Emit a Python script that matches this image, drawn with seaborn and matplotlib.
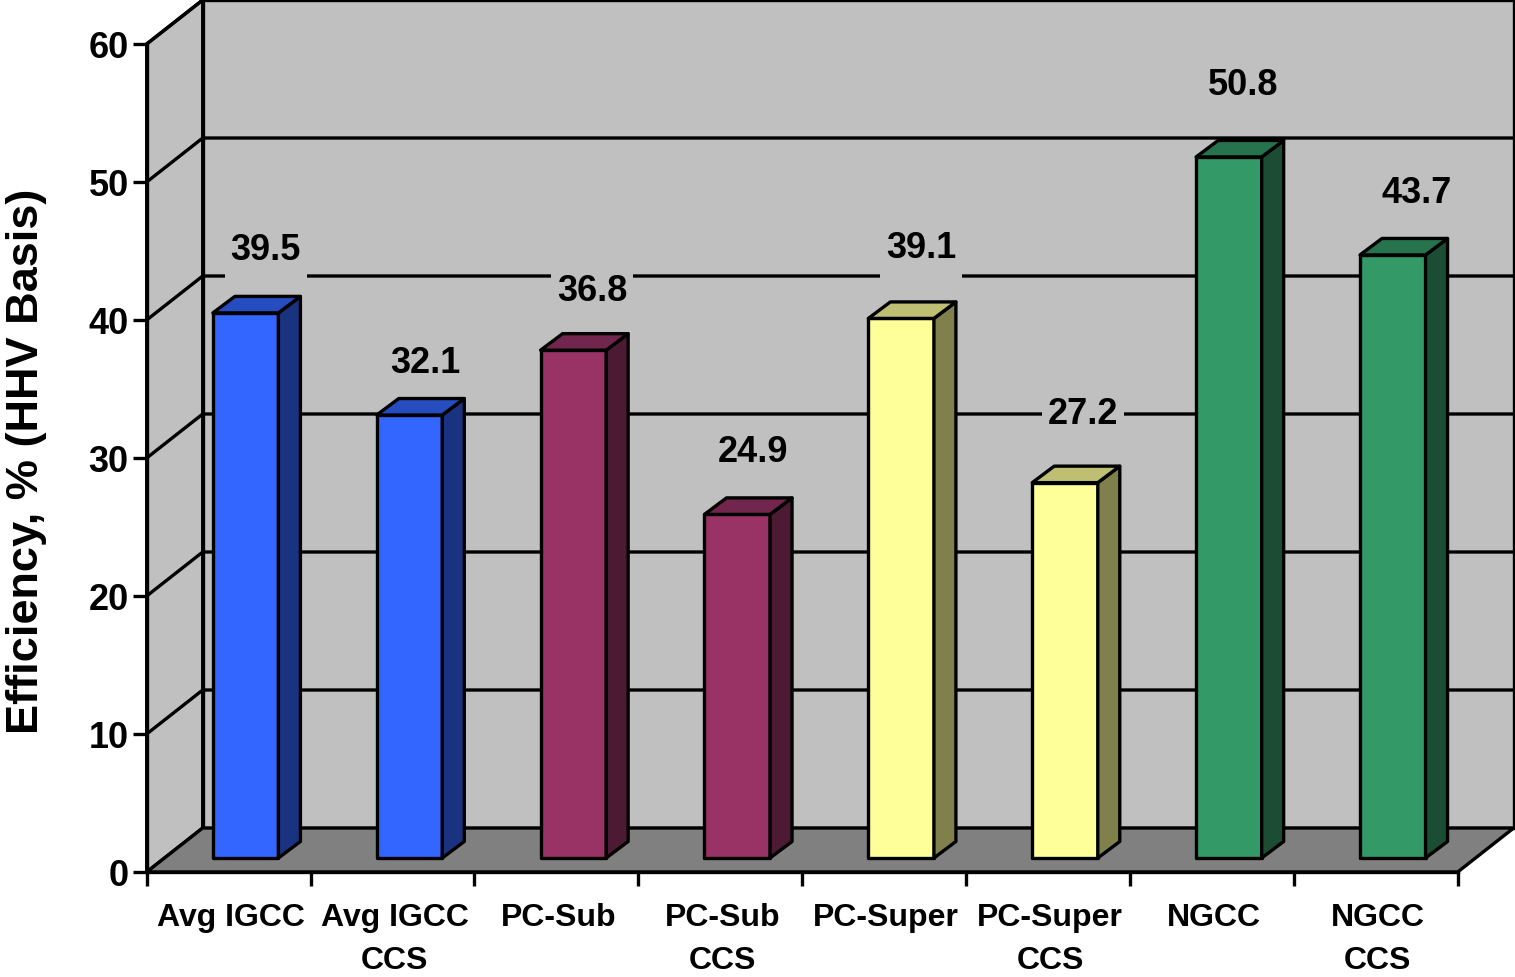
import seaborn as sns
import matplotlib.pyplot as plt
import matplotlib.colors as mcolors
from matplotlib.patches import Polygon, Rectangle
from matplotlib.transforms import Affine2D, offset_copy
import pandas as pd

# Chart values
categories = ["Avg IGCC", "Avg IGCC\nCCS", "PC-Sub", "PC-Sub\nCCS",
              "PC-Super", "PC-Super\nCCS", "NGCC", "NGCC\nCCS"]
efficiency = [39.5, 32.1, 36.8, 24.9, 39.1, 27.2, 50.8, 43.7]
bar_colors = ["#3366FF", "#3366FF", "#993366", "#993366",
              "#FFFF99", "#FFFF99", "#339966", "#339966"]
y_ticks = [0, 10, 20, 30, 40, 50, 60]

# Where each value label sits relative to the top centre of its bar front (px)
label_dx = [37, 33, 36, 33, 37, 35, 31, 41]
label_dy = [66, 56, 63, 66, 74, 72, 75, 65]

# Fake 3D sizes in pixels
WALL_DX, WALL_DY = 56, 44
BAR_DX, BAR_DY = 17, 14
DEPTH_DX, DEPTH_DY = 22, 16.5
LW = 2.4

sns.set_style("white")
plt.rcParams["font.family"] = ["Liberation Sans", "DejaVu Sans"]
plt.rcParams["font.weight"] = "bold"

fig = plt.figure(figsize=(15.15, 9.77), dpi=100, facecolor="white")
ax = fig.add_axes([146.7 / 1515, (977 - 872) / 977, 1311 / 1515, 828 / 977])
ax.patch.set_visible(False)

df = pd.DataFrame({"tech": categories, "eff": efficiency})
sns.barplot(
    data=df, x="tech", y="eff", hue="tech", palette=dict(zip(categories, bar_colors)),
    width=0.40, saturation=1, edgecolor="black", linewidth=LW, legend=False, ax=ax
)
bars = list(ax.patches)

ax.set_xlim(-0.5, 7.5)
ax.set_ylim(0, 60)

# px per data unit
xu = 1311 / 8
yu = 828 / 60
wx, wy = WALL_DX / xu, WALL_DY / yu

# Walls and floor
wall_kw = dict(edgecolor="black", linewidth=LW, clip_on=False, joinstyle="round")
ax.add_patch(Polygon([(-0.5 + wx, wy), (7.5 + wx, wy), (7.5 + wx, 60 + wy), (-0.5 + wx, 60 + wy)],
                     facecolor="#C0C0C0", zorder=0.5, **wall_kw))
ax.add_patch(Polygon([(-0.5, 0), (-0.5 + wx, wy), (-0.5 + wx, 60 + wy), (-0.5, 60)],
                     facecolor="#C0C0C0", zorder=0.6, **wall_kw))
ax.add_patch(Polygon([(-0.5, 0), (7.5, 0), (7.5 + wx, wy), (-0.5 + wx, wy)],
                     facecolor="#808080", zorder=0.7, **wall_kw))

# Gridlines on the back wall and the side wall
for v in y_ticks[1:]:
    ax.plot([-0.5, -0.5 + wx, 7.5 + wx], [v, v + wy, v + wy], color="black", lw=LW,
            clip_on=False, zorder=1, solid_joinstyle="round")

# Bars with their side and top faces
bar_tf = offset_copy(ax.transData, fig, x=BAR_DX, y=BAR_DY, units="dots")
dx, dy = DEPTH_DX / xu, DEPTH_DY / yu
for bar, color in zip(bars, bar_colors):
    x0, w, h = bar.get_x(), bar.get_width(), bar.get_height()
    bar.set_transform(bar_tf)
    bar.set_clip_on(False)
    bar.set_zorder(3)
    bar.set_joinstyle("round")
    rgb = mcolors.to_rgb(color)
    side = [c * 0.5 for c in rgb]
    top = [c * 0.75 for c in rgb]
    ax.add_patch(Polygon([(x0 + w, 0), (x0 + w + dx, dy), (x0 + w + dx, h + dy), (x0 + w, h)],
                         facecolor=side, edgecolor="black", linewidth=LW, joinstyle="round",
                         transform=bar_tf, clip_on=False, zorder=3))
    ax.add_patch(Polygon([(x0, h), (x0 + dx, h + dy), (x0 + w + dx, h + dy), (x0 + w, h)],
                         facecolor=top, edgecolor="black", linewidth=LW, joinstyle="round",
                         transform=bar_tf, clip_on=False, zorder=3))

# Value labels, each with a wall coloured box that hides the gridline behind it
for i, v in enumerate(efficiency):
    cx = i + label_dx[i] / xu
    cy = v + (label_dy[i] + BAR_DY) / yu
    ax.add_patch(Rectangle((cx - 41 / xu, cy - 36 / yu), 82 / xu, 68 / yu,
                           facecolor="#C0C0C0", edgecolor="none", zorder=2, clip_on=False))
    ax.text(cx, cy, f"{v:.1f}", ha="center", va="center_baseline", fontsize=26,
            fontweight="bold", color="black", zorder=4)

# Axes
for name in ["top", "right"]:
    ax.spines[name].set_visible(False)
for name in ["left", "bottom"]:
    ax.spines[name].set_color("black")
    ax.spines[name].set_linewidth(LW)
    ax.spines[name].set_zorder(2.5)

ax.set_yticks(y_ticks)
ax.tick_params(axis="y", which="major", labelsize=26, length=10, width=LW, color="black",
               labelcolor="black", left=True, pad=3)
ax.set_xticks([i - 0.5 for i in range(9)])
ax.set_xticklabels([])
ax.tick_params(axis="x", which="major", length=10, width=LW, color="black", bottom=True)
ax.set_xticks(range(8), minor=True)
ax.set_xticklabels(categories, minor=True, fontsize=23, fontweight="bold", linespacing=1.6,
                   color="black")
ax.tick_params(axis="x", which="minor", length=0, pad=22, labelcolor="black")
for lab in ax.get_xticklabels(minor=True):
    lab.set_transform(lab.get_transform() + Affine2D().translate(2, 0))
for lab in ax.get_yticklabels():
    lab.set_fontweight("bold")

ax.set_xlabel("")
ax.set_ylabel("Efficiency, % (HHV Basis)", fontsize=32.5, fontweight="bold", color="black")
ax.yaxis.set_label_coords(-100 / 1311, 0.4965)

fig.savefig("out.png", dpi=100)
